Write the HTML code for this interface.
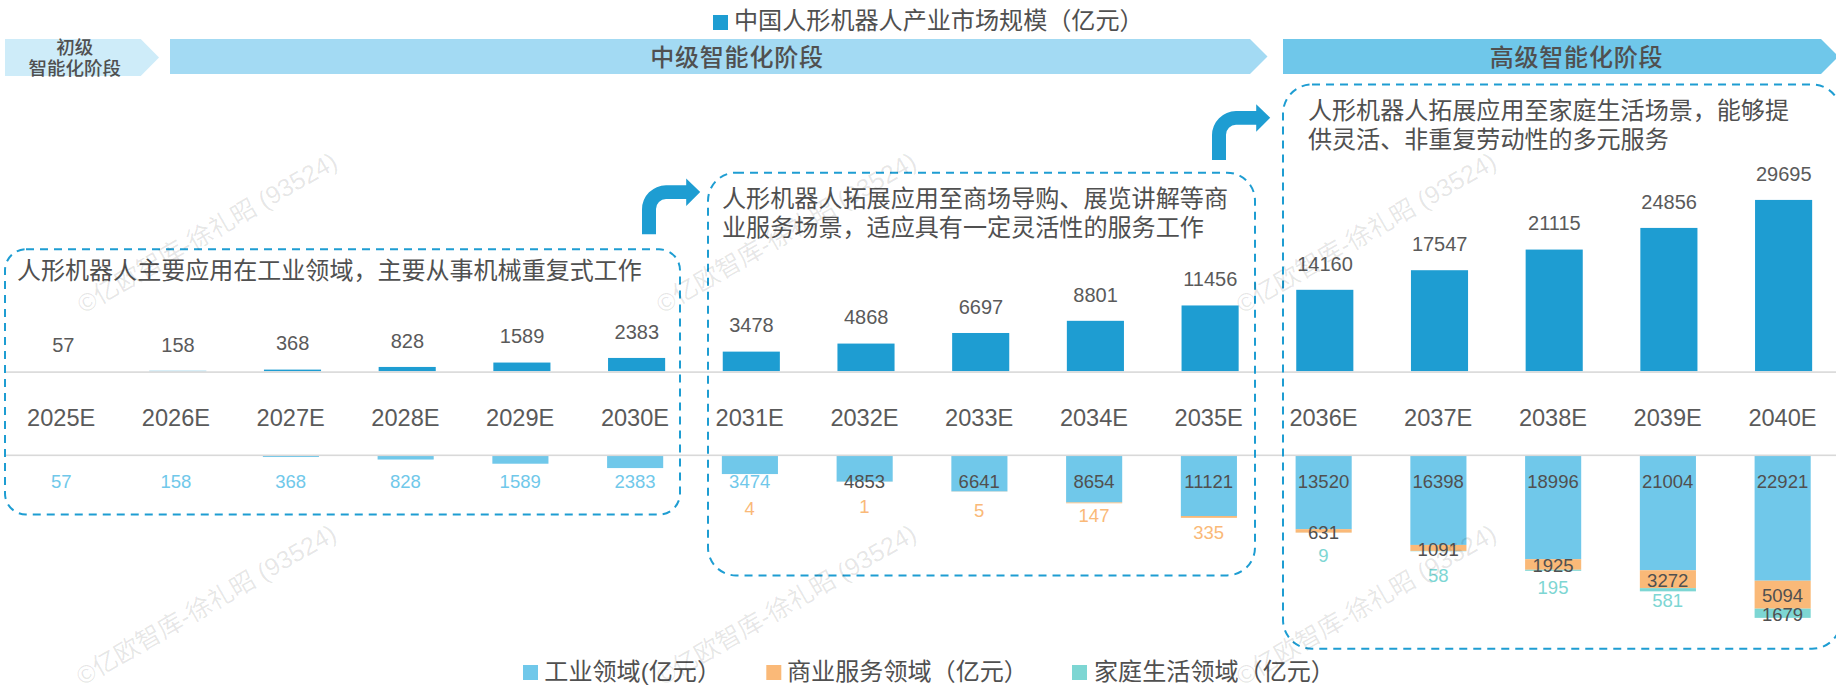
<!DOCTYPE html>
<html lang="zh-CN">
<head>
<meta charset="utf-8">
<title>中国人形机器人产业市场规模</title>
<style>
html,body{margin:0;padding:0;background:#fff;}
body{width:1836px;height:692px;overflow:hidden;}
svg{display:block;}
</style>
</head>
<body>
<svg width="1836" height="692" viewBox="0 0 1836 692" font-family='"Liberation Sans", "Noto Sans CJK SC", sans-serif' fill="#505050">
<rect width="1836" height="692" fill="#fff"/>
<rect x="713" y="15" width="15" height="15" fill="#1e9dd2"/>
<text x="734" y="29" font-size="24.1">中国人形机器人产业市场规模（亿元）</text>
<polygon points="5,39 140.7,39 159,57.5 140.7,76 5,76" fill="#ceecf9"/>
<polygon points="170,39 1250,39 1267.5,56.5 1250,74 170,74" fill="#a3daf3"/>
<polygon points="1283,39 1821,39 1838.5,56.5 1821,74 1283,74" fill="#6fc7ea"/>
<text x="74.8" y="54" font-size="18.5" font-weight="500" text-anchor="middle">初级</text>
<text x="74.8" y="75" font-size="18.5" font-weight="500" text-anchor="middle">智能化阶段</text>
<text x="737" y="66" font-size="24" font-weight="500" letter-spacing="0.8" text-anchor="middle">中级智能化阶段</text>
<text x="1576.5" y="66" font-size="24" font-weight="500" letter-spacing="0.8" text-anchor="middle">高级智能化阶段</text>
<text x="63.3" y="351.9" font-size="20" text-anchor="middle" fill="#5a5a5a">57</text>
<text x="61.2" y="426" font-size="23.6" text-anchor="middle" fill="#5a5a5a">2025E</text>
<rect x="33.35" y="455.00" width="56.1" height="0.31" fill="#70c8ea"/>
<text x="61.2" y="488.2" font-size="18.5" text-anchor="middle" fill="#70c8ea">57</text>
<rect x="149.25" y="370.83" width="57.1" height="0.37" fill="#1e9dd2"/>
<text x="178.0" y="351.5" font-size="20" text-anchor="middle" fill="#5a5a5a">158</text>
<text x="175.9" y="426" font-size="23.6" text-anchor="middle" fill="#5a5a5a">2026E</text>
<rect x="148.10" y="455.00" width="56.1" height="0.87" fill="#70c8ea"/>
<text x="175.9" y="488.2" font-size="18.5" text-anchor="middle" fill="#70c8ea">158</text>
<rect x="263.95" y="369.61" width="57.1" height="1.59" fill="#1e9dd2"/>
<text x="292.7" y="350.3" font-size="20" text-anchor="middle" fill="#5a5a5a">368</text>
<text x="290.7" y="426" font-size="23.6" text-anchor="middle" fill="#5a5a5a">2027E</text>
<rect x="262.85" y="455.00" width="56.1" height="2.02" fill="#70c8ea"/>
<text x="290.7" y="488.2" font-size="18.5" text-anchor="middle" fill="#70c8ea">368</text>
<rect x="378.65" y="366.95" width="57.1" height="4.25" fill="#1e9dd2"/>
<text x="407.4" y="347.6" font-size="20" text-anchor="middle" fill="#5a5a5a">828</text>
<text x="405.4" y="426" font-size="23.6" text-anchor="middle" fill="#5a5a5a">2028E</text>
<rect x="377.60" y="455.00" width="56.1" height="4.54" fill="#70c8ea"/>
<text x="405.4" y="488.2" font-size="18.5" text-anchor="middle" fill="#70c8ea">828</text>
<rect x="493.35" y="362.55" width="57.1" height="8.65" fill="#1e9dd2"/>
<text x="522.1" y="343.2" font-size="20" text-anchor="middle" fill="#5a5a5a">1589</text>
<text x="520.2" y="426" font-size="23.6" text-anchor="middle" fill="#5a5a5a">2029E</text>
<rect x="492.35" y="455.00" width="56.1" height="8.72" fill="#70c8ea"/>
<text x="520.2" y="488.2" font-size="18.5" text-anchor="middle" fill="#70c8ea">1589</text>
<rect x="608.05" y="357.95" width="57.1" height="13.25" fill="#1e9dd2"/>
<text x="636.8" y="338.7" font-size="20" text-anchor="middle" fill="#5a5a5a">2383</text>
<text x="635.0" y="426" font-size="23.6" text-anchor="middle" fill="#5a5a5a">2030E</text>
<rect x="607.10" y="455.00" width="56.1" height="13.07" fill="#70c8ea"/>
<text x="635.0" y="488.2" font-size="18.5" text-anchor="middle" fill="#70c8ea">2383</text>
<rect x="722.75" y="351.62" width="57.1" height="19.58" fill="#1e9dd2"/>
<text x="751.5" y="332.3" font-size="20" text-anchor="middle" fill="#5a5a5a">3478</text>
<text x="749.7" y="426" font-size="23.6" text-anchor="middle" fill="#5a5a5a">2031E</text>
<rect x="721.85" y="455.00" width="56.1" height="19.05" fill="#70c8ea"/>
<rect x="721.85" y="474.05" width="56.1" height="0.02" fill="#fab978"/>
<text x="749.7" y="488.2" font-size="18.5" text-anchor="middle" fill="#70c8ea">3474</text>
<text x="749.7" y="515.1" font-size="18.5" text-anchor="middle" fill="#fab978">4</text>
<rect x="837.45" y="343.57" width="57.1" height="27.63" fill="#1e9dd2"/>
<text x="866.2" y="324.3" font-size="20" text-anchor="middle" fill="#5a5a5a">4868</text>
<text x="864.5" y="426" font-size="23.6" text-anchor="middle" fill="#5a5a5a">2032E</text>
<rect x="836.60" y="455.00" width="56.1" height="26.62" fill="#70c8ea"/>
<rect x="836.60" y="481.62" width="56.1" height="0.08" fill="#fab978"/>
<text x="864.5" y="488.2" font-size="18.5" text-anchor="middle" fill="#505050">4853</text>
<text x="864.5" y="513.3" font-size="18.5" text-anchor="middle" fill="#fab978">1</text>
<rect x="952.15" y="332.99" width="57.1" height="38.21" fill="#1e9dd2"/>
<text x="980.9" y="313.7" font-size="20" text-anchor="middle" fill="#5a5a5a">6697</text>
<text x="979.2" y="426" font-size="23.6" text-anchor="middle" fill="#5a5a5a">2033E</text>
<rect x="951.35" y="455.00" width="56.1" height="36.43" fill="#70c8ea"/>
<rect x="951.35" y="491.43" width="56.1" height="0.16" fill="#fab978"/>
<text x="979.2" y="488.2" font-size="18.5" text-anchor="middle" fill="#505050">6641</text>
<text x="979.2" y="517.1" font-size="18.5" text-anchor="middle" fill="#fab978">5</text>
<rect x="1066.85" y="320.82" width="57.1" height="50.38" fill="#1e9dd2"/>
<text x="1095.6" y="301.5" font-size="20" text-anchor="middle" fill="#5a5a5a">8801</text>
<text x="1094.0" y="426" font-size="23.6" text-anchor="middle" fill="#5a5a5a">2034E</text>
<rect x="1066.10" y="455.00" width="56.1" height="47.47" fill="#70c8ea"/>
<rect x="1066.10" y="502.47" width="56.1" height="0.81" fill="#fab978"/>
<text x="1094.0" y="488.2" font-size="18.5" text-anchor="middle" fill="#505050">8654</text>
<text x="1094.0" y="522.3" font-size="18.5" text-anchor="middle" fill="#fab978">147</text>
<rect x="1181.55" y="305.46" width="57.1" height="65.74" fill="#1e9dd2"/>
<text x="1210.3" y="286.2" font-size="20" text-anchor="middle" fill="#5a5a5a">11456</text>
<text x="1208.7" y="426" font-size="23.6" text-anchor="middle" fill="#5a5a5a">2035E</text>
<rect x="1180.85" y="455.00" width="56.1" height="61.00" fill="#70c8ea"/>
<rect x="1180.85" y="516.00" width="56.1" height="1.84" fill="#fab978"/>
<text x="1208.7" y="488.2" font-size="18.5" text-anchor="middle" fill="#505050">11121</text>
<text x="1208.7" y="538.5" font-size="18.5" text-anchor="middle" fill="#fab978">335</text>
<rect x="1296.25" y="289.81" width="57.1" height="81.39" fill="#1e9dd2"/>
<text x="1325.0" y="270.5" font-size="20" text-anchor="middle" fill="#5a5a5a">14160</text>
<text x="1323.5" y="426" font-size="23.6" text-anchor="middle" fill="#5a5a5a">2036E</text>
<rect x="1295.60" y="455.00" width="56.1" height="74.16" fill="#70c8ea"/>
<rect x="1295.60" y="529.16" width="56.1" height="3.46" fill="#fab978"/>
<rect x="1295.60" y="532.62" width="56.1" height="0.05" fill="#7dd6d3"/>
<text x="1323.5" y="488.2" font-size="18.5" text-anchor="middle" fill="#505050">13520</text>
<text x="1323.5" y="538.5" font-size="18.5" text-anchor="middle">631</text>
<text x="1323.5" y="562.3" font-size="18.5" text-anchor="middle" fill="#7dd6d3">9</text>
<rect x="1410.95" y="270.21" width="57.1" height="100.99" fill="#1e9dd2"/>
<text x="1439.7" y="250.9" font-size="20" text-anchor="middle" fill="#5a5a5a">17547</text>
<text x="1438.2" y="426" font-size="23.6" text-anchor="middle" fill="#5a5a5a">2037E</text>
<rect x="1410.35" y="455.00" width="56.1" height="89.94" fill="#70c8ea"/>
<rect x="1410.35" y="544.94" width="56.1" height="5.98" fill="#fab978"/>
<rect x="1410.35" y="550.93" width="56.1" height="0.32" fill="#7dd6d3"/>
<text x="1438.2" y="488.2" font-size="18.5" text-anchor="middle" fill="#505050">16398</text>
<text x="1438.2" y="555.5" font-size="18.5" text-anchor="middle">1091</text>
<text x="1438.2" y="582.2" font-size="18.5" text-anchor="middle" fill="#7dd6d3">58</text>
<rect x="1525.65" y="249.57" width="57.1" height="121.63" fill="#1e9dd2"/>
<text x="1554.4" y="230.3" font-size="20" text-anchor="middle" fill="#5a5a5a">21115</text>
<text x="1553.0" y="426" font-size="23.6" text-anchor="middle" fill="#5a5a5a">2038E</text>
<rect x="1525.10" y="455.00" width="56.1" height="104.19" fill="#70c8ea"/>
<rect x="1525.10" y="559.19" width="56.1" height="10.56" fill="#fab978"/>
<rect x="1525.10" y="569.75" width="56.1" height="1.07" fill="#7dd6d3"/>
<text x="1553.0" y="488.2" font-size="18.5" text-anchor="middle" fill="#505050">18996</text>
<text x="1553.0" y="572.1" font-size="18.5" text-anchor="middle">1925</text>
<text x="1553.0" y="594.1" font-size="18.5" text-anchor="middle" fill="#7dd6d3">195</text>
<rect x="1640.35" y="227.92" width="57.1" height="143.28" fill="#1e9dd2"/>
<text x="1669.1" y="208.6" font-size="20" text-anchor="middle" fill="#5a5a5a">24856</text>
<text x="1667.7" y="426" font-size="23.6" text-anchor="middle" fill="#5a5a5a">2039E</text>
<rect x="1639.85" y="455.00" width="56.1" height="115.21" fill="#70c8ea"/>
<rect x="1639.85" y="570.21" width="56.1" height="17.95" fill="#fab978"/>
<rect x="1639.85" y="588.15" width="56.1" height="3.19" fill="#7dd6d3"/>
<text x="1667.7" y="488.2" font-size="18.5" text-anchor="middle" fill="#505050">21004</text>
<text x="1667.7" y="586.8" font-size="18.5" text-anchor="middle">3272</text>
<text x="1667.7" y="607.3" font-size="18.5" text-anchor="middle" fill="#7dd6d3">581</text>
<rect x="1755.05" y="199.92" width="57.1" height="171.28" fill="#1e9dd2"/>
<text x="1783.8" y="180.6" font-size="20" text-anchor="middle" fill="#5a5a5a">29695</text>
<text x="1782.5" y="426" font-size="23.6" text-anchor="middle" fill="#5a5a5a">2040E</text>
<rect x="1754.60" y="455.00" width="56.1" height="125.72" fill="#70c8ea"/>
<rect x="1754.60" y="580.72" width="56.1" height="27.94" fill="#fab978"/>
<rect x="1754.60" y="608.66" width="56.1" height="9.21" fill="#7dd6d3"/>
<text x="1782.5" y="488.2" font-size="18.5" text-anchor="middle" fill="#505050">22921</text>
<text x="1782.5" y="602.3" font-size="18.5" text-anchor="middle">5094</text>
<text x="1782.5" y="620.9" font-size="18.5" text-anchor="middle">1679</text>
<rect x="5" y="371.3" width="1831" height="1.6" fill="#d9d9d9"/>
<rect x="5" y="454.5" width="1831" height="1.6" fill="#d9d9d9"/>
<path d="M642,234.2 L642,209.3 A24,24 0 0 1 666,185.3 L686.2,185.3 L686.2,178.5 L700.2,192 L686.2,206 L686.2,199 L666,199 A10,10 0 0 0 656,209 L656,234.2 Z" fill="#1e9dd2"/>
<path d="M642,234.2 L642,209.3 A24,24 0 0 1 666,185.3 L686.2,185.3 L686.2,178.5 L700.2,192 L686.2,206 L686.2,199 L666,199 A10,10 0 0 0 656,209 L656,234.2 Z" fill="#1e9dd2" transform="translate(570 -74.2)"/>
<rect x="5" y="249.3" width="675" height="265.2" rx="21" fill="none" stroke="#1e9dd2" stroke-width="2" stroke-dasharray="8 6"/>
<rect x="708" y="172.7" width="547" height="402.7" rx="28" fill="none" stroke="#1e9dd2" stroke-width="2" stroke-dasharray="8 6"/>
<rect x="1283" y="84.5" width="558" height="564.3" rx="29" fill="none" stroke="#1e9dd2" stroke-width="2" stroke-dasharray="8 6"/>
<text x="17" y="279" font-size="24.04">人形机器人主要应用在工业领域，主要从事机械重复式工作</text>
<text x="722" y="207" font-size="24.1">人形机器人拓展应用至商场导购、展览讲解等商</text>
<text x="722" y="236" font-size="24.1">业服务场景，适应具有一定灵活性的服务工作</text>
<text x="1308" y="119" font-size="24.05">人形机器人拓展应用至家庭生活场景，能够提</text>
<text x="1308" y="148" font-size="24.05">供灵活、非重复劳动性的多元服务</text>
<rect x="523" y="665" width="15" height="15" fill="#70c8ea"/><text x="544.3" y="680" font-size="24.1">工业领域(亿元）</text>
<rect x="766.3" y="665" width="15" height="15" fill="#fab978"/><text x="787" y="680" font-size="24.1">商业服务领域（亿元）</text>
<rect x="1072" y="665" width="15" height="15" fill="#7dd6d3"/><text x="1094" y="680" font-size="24.1">家庭生活领域（亿元）</text>
<text x="207" y="232.5" font-size="25" text-anchor="middle" fill="#000" fill-opacity="0.10" transform="rotate(-30 207 232.5)" dominant-baseline="central">©亿欧智库-徐礼昭 (93524)</text>
<text x="786" y="232.5" font-size="25" text-anchor="middle" fill="#000" fill-opacity="0.10" transform="rotate(-30 786 232.5)" dominant-baseline="central">©亿欧智库-徐礼昭 (93524)</text>
<text x="1366" y="232.5" font-size="25" text-anchor="middle" fill="#000" fill-opacity="0.10" transform="rotate(-30 1366 232.5)" dominant-baseline="central">©亿欧智库-徐礼昭 (93524)</text>
<text x="206" y="604.5" font-size="25" text-anchor="middle" fill="#000" fill-opacity="0.10" transform="rotate(-30 206 604.5)" dominant-baseline="central">©亿欧智库-徐礼昭 (93524)</text>
<text x="786" y="604.5" font-size="25" text-anchor="middle" fill="#000" fill-opacity="0.10" transform="rotate(-30 786 604.5)" dominant-baseline="central">©亿欧智库-徐礼昭 (93524)</text>
<text x="1366" y="604.5" font-size="25" text-anchor="middle" fill="#000" fill-opacity="0.10" transform="rotate(-30 1366 604.5)" dominant-baseline="central">©亿欧智库-徐礼昭 (93524)</text>
</svg>
</body>
</html>
